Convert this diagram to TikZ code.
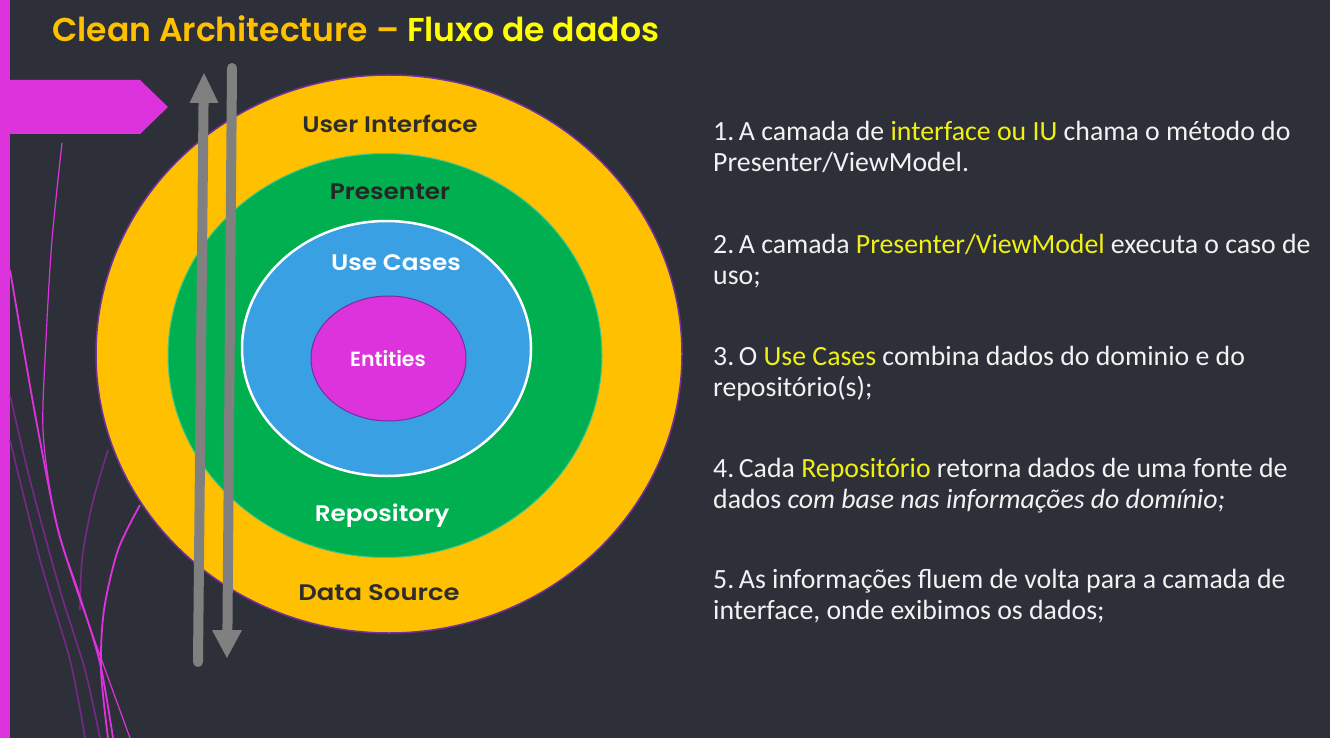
\documentclass[tikz,border=0pt]{standalone}
\usepackage{fontspec}
\setmainfont{Carlito}
\newfontfamily\gothic{Poppins}[BoldFont={Poppins SemiBold}]
\definecolor{bg}{RGB}{45,48,57}
\definecolor{mag}{RGB}{221,51,221}
\definecolor{dimmag}{RGB}{120,40,135}
\definecolor{ring1}{RGB}{255,192,0}
\definecolor{ring2}{RGB}{0,176,80}
\definecolor{ring3}{RGB}{58,160,228}
\definecolor{ringline}{RGB}{112,48,160}
\definecolor{arrowgray}{RGB}{128,128,128}
\definecolor{txt}{RGB}{242,242,242}
\definecolor{hl}{RGB}{240,240,20}
\definecolor{darklabel}{RGB}{45,45,45}
\definecolor{titleorange}{RGB}{255,192,0}
\definecolor{titleyellow}{RGB}{255,255,0}
\newcommand{\widen}[1]{\scalebox{1.1}[1]{#1}}
\tikzset{
  body/.style={anchor=base west, inner sep=0pt, text=txt, font=\fontsize{27.8}{31}\selectfont},
  ringlabel/.style={anchor=base, inner sep=0pt, font=\gothic\bfseries\fontsize{22.5}{24}\selectfont},
  shaft/.style={draw=arrowgray, line width=10pt, line cap=round},
  head/.style={fill=arrowgray},
  deco/.style={draw=mag, line width=1.8pt},
  decodim/.style={draw=dimmag, line width=1.6pt},
}
\begin{document}
\begin{tikzpicture}[x=1pt,y=-1pt]
\useasboundingbox (0,0) rectangle (1330,738);
\fill[bg] (0,0) rectangle (1330,738);
% left bar and banner
\fill[mag] (0,0) rectangle (10,738);
\fill[mag] (10,80) -- (140,80) -- (168,107) -- (140,134) -- (10,134) -- cycle;
% decorative curves
\draw[decodim] plot[smooth] coordinates {(10,395) (30,480) (60,590) (85,670) (100,738)};
\draw[decodim] plot[smooth] coordinates {(10,440) (40,560) (70,660) (85,738)};
\draw[decodim] plot[smooth] coordinates {(108,450) (92,505) (82,560) (80,610)};
\draw[deco, line width=1.2pt] plot[smooth] coordinates {(62,143) (52,240) (46,340) (43,430) (53,507) (70,570) (97,647) (130,738)};
\draw[deco] plot[smooth] coordinates {(10,270) (22,340) (38,430) (58,530) (80,597) (100,663) (113,738)};
\draw[deco] plot[smooth] coordinates {(140,505) (118,550) (104,610) (101,670) (108,738)};
% title
\node[anchor=base west, inner sep=0pt, font=\gothic\bfseries\fontsize{33}{35}\selectfont] (title) at (52,42)
  {\textcolor{titleorange}{Clean Architecture –} \textcolor{titleyellow}{Fluxo de dados}};
% rings
\filldraw[fill=ring1, draw=ringline, line width=1.5pt] (389,354) ellipse (293 and 279);
\filldraw[fill=ring2, draw=ring2!70!white, line width=1pt] (385,355.5) ellipse (217 and 202);
\filldraw[fill=ring3, draw=white, line width=2.5pt] (386.5,348.5) ellipse (144.5 and 127.5);
\filldraw[fill=mag, draw=ringline, line width=1pt] (388.5,358.5) ellipse (77.5 and 62.5);
% ring labels
\node[ringlabel, text=darklabel] (ui) at (390,133) {\widen{User Interface}};
\node[ringlabel, text=black!85] (pres) at (390,200) {\widen{Presenter}};
\node[ringlabel, text=white] (uc) at (396,270) {\widen{Use Cases}};
\node[ringlabel, text=white, font=\gothic\bfseries\fontsize{20.5}{22}\selectfont] (ent) at (388,366) {Entities};
\node[ringlabel, text=white] (repo) at (382,521) {\widen{Repository}};
\node[ringlabel, text=darklabel] (ds) at (379,600) {\scalebox{1.15}[1]{Data Source}};
% arrows
\coordinate (upBottom) at (198,662);
\coordinate (upEnd) at (203.6,96);
\coordinate (upTip) at (204,73);
\coordinate (dnTop) at (232,68);
\coordinate (dnEnd) at (227.4,636);
\coordinate (dnTip) at (227,658);
\draw[shaft] (upBottom) -- (upEnd);
\fill[head] (upTip) -- (218.5,103) -- (189.5,103) -- cycle;
\draw[shaft] (dnTop) -- (dnEnd);
\fill[head] (dnTip) -- (242,630) -- (212,630) -- cycle;
% right text
\node[body] (t1a) at (713,141) {1.\,A camada de \textcolor{hl}{interface ou IU} chama o método do};
\node[body] (t1b) at (713,172) {Presenter/ViewModel.};
\node[body] (t2a) at (713,253) {2.\,A camada \textcolor{hl}{Presenter/ViewModel} executa o caso de};
\node[body] (t2b) at (713,284) {uso;};
\node[body] (t3a) at (713,365) {3.\,O \textcolor{hl}{Use Cases} combina dados do dominio e do};
\node[body] (t3b) at (713,396) {repositório(s);};
\node[body] (t4a) at (713,477) {4.\,Cada \textcolor{hl}{Repositório} retorna dados de uma fonte de};
\node[body] (t4b) at (713,508) {dados \textit{com base nas informações do domínio;}};
\node[body] (t5a) at (713,588) {5.\,As informações fluem de volta para a camada de};
\node[body] (t5b) at (713,619) {interface, onde exibimos os dados;};
\end{tikzpicture}
\end{document}
